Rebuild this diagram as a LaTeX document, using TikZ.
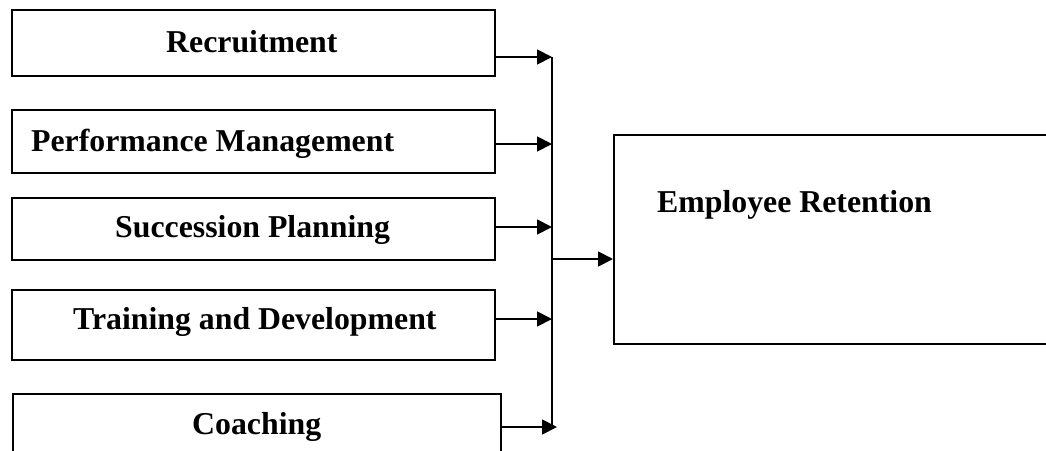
\documentclass[tikz,border=0pt]{standalone}
\usepackage{fontspec}
\setmainfont{Liberation Serif}
\usetikzlibrary{arrows.meta}
\begin{document}
\begin{tikzpicture}[x=1pt,y=-1pt,
  box/.style={draw, line width=1.8pt, rectangle, inner sep=0pt, anchor=north west},
  lbl/.style={font=\fontsize{31.8}{38}\selectfont\bfseries, anchor=base west, inner sep=0pt},
  arr/.style={line width=1.8pt, -{Triangle[length=15pt,width=15pt]}},
  bus/.style={line width=1.8pt}]
\useasboundingbox (0,0) rectangle (1046,450);
\clip (0,0) rectangle (1046,450);
% boxes
\node[box, minimum width=483pt, minimum height=66pt] (r) at (11,9) {};
\node[box, minimum width=483pt, minimum height=63pt] (p) at (11,109) {};
\node[box, minimum width=483pt, minimum height=62pt] (s) at (11,197) {};
\node[box, minimum width=483pt, minimum height=70pt] (t) at (11,289) {};
\node[box, minimum width=488pt, minimum height=90pt] (c) at (12,393) {};
\node[box, minimum width=470pt, minimum height=209pt] (e) at (613,134) {};
% labels
\node[lbl] (rt) at (166,52) {Recruitment};
\node[lbl] (pt) at (31,151) {Performance Management};
\node[lbl] (st) at (115,237) {Succession Planning};
\node[lbl] (tt) at (73,329) {Training and Development};
\node[lbl] (ct) at (192,434) {Coaching};
\node[lbl] (et) at (657,212) {Employee Retention};
% junction points
\coordinate (j1) at (552,57);
\coordinate (j2) at (552,144);
\coordinate (j3) at (552,227);
\coordinate (j4) at (552,319);
\coordinate (j5) at (552,427);
\coordinate (j5t) at (557,427);
\coordinate (jo) at (552,259);
% connectors
\draw[bus] (j1) -- (j5);
\draw[arr] (r.east |- j1) -- (j1);
\draw[arr] (p.east |- j2) -- (j2);
\draw[arr] (s.east |- j3) -- (j3);
\draw[arr] (t.east |- j4) -- (j4);
\draw[arr] (c.east |- j5) -- (j5t);
\draw[arr] (jo) -- (e.west |- jo);
\end{tikzpicture}
\end{document}
